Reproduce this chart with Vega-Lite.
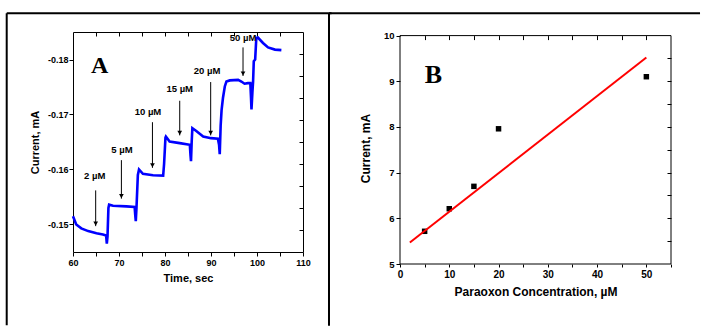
{
  "$schema": "https://vega.github.io/schema/vega-lite/v6.json",
  "padding": {"left": 5, "top": 11, "right": 0, "bottom": 0},
  "background": "white",
  "spacing": -7,
  "columns": 2,
  "align": "none",
  "config": {
    "view": {"stroke": "#000", "strokeWidth": 1},
    "axis": {"domain": false, "grid": false, "tickColor": "#000", "tickWidth": 1, "labelColor": "#000", "titleColor": "#000", "labelFont": "Liberation Sans", "titleFont": "Liberation Sans", "labelFlush": false, "labelOverlap": false, "labelFontWeight": "bold", "titleFontWeight": "bold"},
    "text": {"font": "Liberation Sans"}
  },
  "datasets": {
    "curveA": [
      {"time": 60.0, "current": -0.1515},
      {"time": 60.7, "current": -0.1500},
      {"time": 61.8, "current": -0.1493},
      {"time": 63.3, "current": -0.1488},
      {"time": 65.1, "current": -0.1484},
      {"time": 66.5, "current": -0.1482},
      {"time": 67.2, "current": -0.1480},
      {"time": 67.35, "current": -0.1465},
      {"time": 67.5, "current": -0.1478},
      {"time": 67.7, "current": -0.1530},
      {"time": 67.85, "current": -0.1536},
      {"time": 68.7, "current": -0.1534},
      {"time": 71.6, "current": -0.1533},
      {"time": 73.4, "current": -0.1532},
      {"time": 73.55, "current": -0.1515},
      {"time": 73.65, "current": -0.1506},
      {"time": 73.8, "current": -0.1530},
      {"time": 74.1, "current": -0.1590},
      {"time": 74.35, "current": -0.1600},
      {"time": 75.2, "current": -0.1592},
      {"time": 77.4, "current": -0.15895},
      {"time": 79.6, "current": -0.1589},
      {"time": 79.8, "current": -0.1610},
      {"time": 80.1, "current": -0.1658},
      {"time": 80.2, "current": -0.1660},
      {"time": 81.0, "current": -0.1651},
      {"time": 83.2, "current": -0.1648},
      {"time": 85.4, "current": -0.1645},
      {"time": 85.55, "current": -0.1625},
      {"time": 85.65, "current": -0.1615},
      {"time": 85.8, "current": -0.1650},
      {"time": 85.95, "current": -0.1675},
      {"time": 86.8, "current": -0.1670},
      {"time": 88.3, "current": -0.1660},
      {"time": 90.0, "current": -0.1657},
      {"time": 91.5, "current": -0.1656},
      {"time": 91.75, "current": -0.1645},
      {"time": 91.9, "current": -0.1628},
      {"time": 92.1, "current": -0.1680},
      {"time": 92.3, "current": -0.1708},
      {"time": 92.6, "current": -0.1730},
      {"time": 93.0, "current": -0.1751},
      {"time": 93.35, "current": -0.1760},
      {"time": 94.1, "current": -0.1762},
      {"time": 95.9, "current": -0.1763},
      {"time": 96.6, "current": -0.1760},
      {"time": 97.3, "current": -0.1756},
      {"time": 98.0, "current": -0.1757},
      {"time": 98.55, "current": -0.1757},
      {"time": 98.7, "current": -0.1730},
      {"time": 98.8, "current": -0.1709},
      {"time": 99.0, "current": -0.1740},
      {"time": 99.15, "current": -0.1760},
      {"time": 99.3, "current": -0.1797},
      {"time": 99.6, "current": -0.1800},
      {"time": 99.85, "current": -0.1839},
      {"time": 100.2, "current": -0.1840},
      {"time": 101.3, "current": -0.1830},
      {"time": 102.4, "current": -0.1822},
      {"time": 103.9, "current": -0.1818},
      {"time": 105.3, "current": -0.1817}
    ],
    "arrowsA": [
      {"label": "2 µM", "t": 64.93, "y1": -0.1562, "y2": -0.1497, "lt": 64.72, "ly": -0.1583},
      {"label": "5 µM", "t": 70.52, "y1": -0.1617, "y2": -0.1547, "lt": 70.65, "ly": -0.1630},
      {"label": "10 µM", "t": 77.27, "y1": -0.1686, "y2": -0.1603, "lt": 76.30, "ly": -0.1700},
      {"label": "15 µM", "t": 83.20, "y1": -0.1725, "y2": -0.1662, "lt": 83.20, "ly": -0.1741},
      {"label": "20 µM", "t": 89.93, "y1": -0.1759, "y2": -0.1662, "lt": 89.13, "ly": -0.1774},
      {"label": "50 µM", "t": 96.96, "y1": -0.1822, "y2": -0.1770, "lt": 96.96, "ly": -0.1834}
    ],
    "frameA": [
      {"x": 45.59, "x2": 45.59, "y": -0.1884, "y2": -0.13167},
      {"x": 45.59, "x2": 116.2, "y": -0.1884, "y2": -0.1884}
    ],
    "pointsB": [
      {"conc": 5, "current": 5.716},
      {"conc": 10, "current": 6.21},
      {"conc": 15, "current": 6.70},
      {"conc": 20, "current": 7.96},
      {"conc": 50, "current": 9.10}
    ],
    "fitB": [
      {"conc": 2, "current": 5.47},
      {"conc": 50, "current": 9.52}
    ],
    "boxB": [
      {"x": 0, "x2": 55, "y": 10, "y2": 10},
      {"x": 0, "x2": 55, "y": 5, "y2": 5},
      {"x": 0, "x2": 0, "y": 5, "y2": 10},
      {"x": 55, "x2": 55, "y": 5, "y2": 10}
    ],
    "frameB": [
      {"x": -14.41, "x2": -14.41, "y": 10.489, "y2": 3.647},
      {"x": -14.41, "x2": 60.89, "y": 10.489, "y2": 10.489}
    ]
  },
  "concat": [
    {
      "width": 230,
      "height": 220,
      "layer": [
        {
          "data": {"name": "curveA"},
          "mark": {"type": "line", "color": "#0000ff", "strokeWidth": 2.6},
          "encoding": {
            "x": {"field": "time", "type": "quantitative", "scale": {"domain": [60, 110], "nice": false, "zero": false},
              "axis": {"orient": "bottom", "values": [60, 65, 70, 75, 80, 85, 90, 95, 100, 105, 110], "labelExpr": "datum.value % 10 === 0 ? datum.label : ''", "tickSize": 4, "labelFontSize": 9, "labelPadding": 2, "title": "Time, sec", "titleFontSize": 11, "titlePadding": 5}},
            "y": {"field": "current", "type": "quantitative", "scale": {"domain": [-0.185, -0.145], "reverse": true, "nice": false, "zero": false},
              "axis": {"orient": "left", "values": [-0.18, -0.17, -0.16, -0.15], "labelExpr": "'-' + format(abs(datum.value), '.2f')", "tickSize": 4, "labelFontSize": 9, "labelPadding": 1, "title": "Current, mA", "titleFontSize": 11, "titlePadding": 7}}
          }
        },
        {
          "data": {"name": "arrowsA"},
          "mark": {"type": "rule", "color": "#000", "strokeWidth": 1},
          "encoding": {
            "x": {"field": "t", "type": "quantitative", "scale": {"domain": [60, 110], "nice": false, "zero": false},
              "axis": {"orient": "top", "values": [65, 70, 75, 80, 85, 90, 95, 100, 105], "labels": false, "tickSize": -4, "title": null}},
            "y": {"field": "y1", "type": "quantitative", "scale": {"domain": [-0.185, -0.145], "reverse": true, "nice": false, "zero": false},
              "axis": {"orient": "right", "values": [-0.181, -0.177, -0.173, -0.169, -0.165, -0.161, -0.157, -0.153, -0.149], "labels": false, "tickSize": -4, "title": null}},
            "y2": {"field": "y2"}
          }
        },
        {
          "data": {"name": "arrowsA"},
          "mark": {"type": "point", "shape": "triangle-down", "filled": true, "color": "#000", "opacity": 1, "size": 22, "yOffset": -2.5},
          "encoding": {
            "x": {"field": "t", "type": "quantitative", "axis": null},
            "y": {"field": "y2", "type": "quantitative", "axis": null}
          }
        },
        {
          "data": {"name": "arrowsA"},
          "mark": {"type": "text", "fontSize": 9.5, "fontWeight": "bold", "color": "#000", "align": "center", "baseline": "alphabetic"},
          "encoding": {
            "x": {"field": "lt", "type": "quantitative", "axis": null},
            "y": {"field": "ly", "type": "quantitative", "axis": null},
            "text": {"field": "label"}
          }
        },
        {
          "data": {"values": [{"panel": "A", "t": 65.8, "c": -0.1775}]},
          "mark": {"type": "text", "font": "Liberation Serif", "fontSize": 24, "fontWeight": "bold", "color": "#000", "align": "center", "baseline": "alphabetic"},
          "encoding": {
            "x": {"field": "t", "type": "quantitative", "axis": null},
            "y": {"field": "c", "type": "quantitative", "axis": null},
            "text": {"field": "panel"}
          }
        },
        {
          "data": {"name": "frameA"},
          "mark": {"type": "rule", "color": "#000", "strokeWidth": 2},
          "encoding": {
            "x": {"field": "x", "type": "quantitative", "axis": null},
            "x2": {"field": "x2"},
            "y": {"field": "y", "type": "quantitative", "axis": null},
            "y2": {"field": "y2"}
          }
        }
      ]
    },
    {
      "width": 271,
      "height": 232,
      "view": {"stroke": null},
      "layer": [
        {
          "data": {"name": "pointsB"},
          "mark": {"type": "square", "color": "#000", "opacity": 1, "size": 30},
          "encoding": {
            "x": {"field": "conc", "type": "quantitative", "scale": {"domain": [0, 55], "nice": false, "zero": false},
              "axis": {"orient": "bottom", "values": [0, 5, 10, 15, 20, 25, 30, 35, 40, 45, 50, 55], "labelExpr": "datum.value % 10 === 0 ? datum.label : ''", "tickSize": 3, "labelFontSize": 10, "labelPadding": 2, "title": "Paraoxon Concentration, µM", "titleFontSize": 12, "titlePadding": 7}},
            "y": {"field": "current", "type": "quantitative", "scale": {"domain": [5, 10.079], "nice": false, "zero": false},
              "axis": {"orient": "left", "values": [5, 6, 7, 8, 9, 10], "tickSize": 4, "labelFontSize": 9.5, "labelPadding": 2, "title": "Current, mA", "titleFontSize": 12, "titlePadding": 11}}
          }
        },
        {
          "data": {"name": "fitB"},
          "mark": {"type": "line", "color": "#ff0000", "strokeWidth": 2},
          "encoding": {
            "x": {"field": "conc", "type": "quantitative", "scale": {"domain": [0, 55], "nice": false, "zero": false},
              "axis": {"orient": "top", "offset": -3.6, "values": [5, 10, 15, 20, 25, 30, 35, 40, 45, 50], "labels": false, "tickSize": -4, "title": null}},
            "y": {"field": "current", "type": "quantitative", "scale": {"domain": [5, 10.079], "nice": false, "zero": false},
              "axis": {"orient": "right", "values": [5.5, 6, 6.5, 7, 7.5, 8, 8.5, 9, 9.5], "labels": false, "tickSize": -4, "title": null}}
          }
        },
        {
          "data": {"name": "boxB"},
          "mark": {"type": "rule", "color": "#000", "strokeWidth": 1},
          "encoding": {
            "x": {"field": "x", "type": "quantitative", "axis": null},
            "x2": {"field": "x2"},
            "y": {"field": "y", "type": "quantitative", "axis": null},
            "y2": {"field": "y2"}
          }
        },
        {
          "data": {"values": [{"panel": "B", "x": 6.77, "y": 8.96}]},
          "mark": {"type": "text", "font": "Liberation Serif", "fontSize": 26, "fontWeight": "bold", "color": "#000", "align": "center", "baseline": "alphabetic"},
          "encoding": {
            "x": {"field": "x", "type": "quantitative", "axis": null},
            "y": {"field": "y", "type": "quantitative", "axis": null},
            "text": {"field": "panel"}
          }
        },
        {
          "data": {"name": "frameB"},
          "mark": {"type": "rule", "color": "#000", "strokeWidth": 2},
          "encoding": {
            "x": {"field": "x", "type": "quantitative", "axis": null},
            "x2": {"field": "x2"},
            "y": {"field": "y", "type": "quantitative", "axis": null},
            "y2": {"field": "y2"}
          }
        }
      ]
    }
  ]
}
